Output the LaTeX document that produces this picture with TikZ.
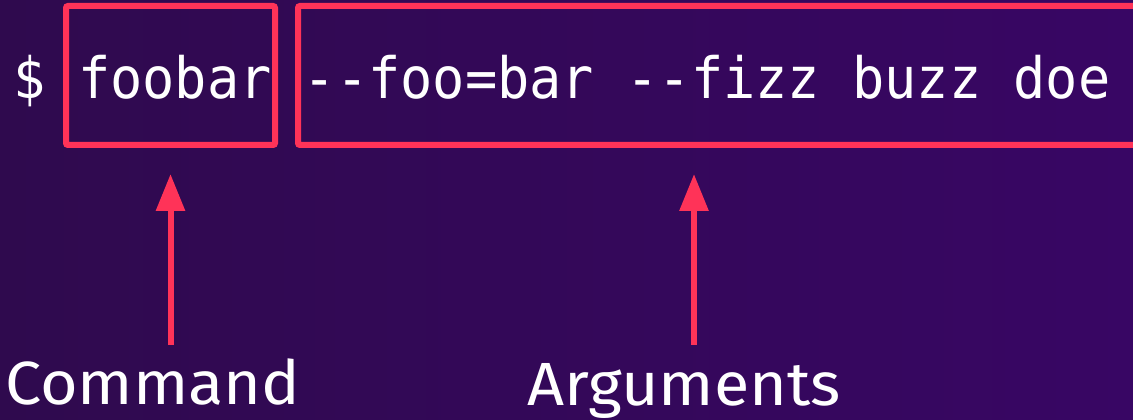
\documentclass[tikz,border=0pt]{standalone}
\usepackage{fontspec}
\usetikzlibrary{arrows.meta}
\newfontfamily\termfont[FakeStretch=0.94]{DejaVu Sans Mono}
\newfontfamily\labelfont[FakeStretch=1.06]{Fira Sans}
\definecolor{bgleft}{HTML}{2F0A4E}
\definecolor{bgright}{HTML}{380664}
\definecolor{hilite}{HTML}{FF3358}
\tikzset{
  x=1pt, y=1pt,
  term/.style={inner sep=0pt, anchor=base west, text=white,
    font=\termfont\fontsize{57}{60}\selectfont},
  frame/.style={draw=hilite, line width=6pt, rounded corners=2pt, inner sep=0pt},
  caption/.style={inner sep=0pt, anchor=base west, text=white,
    font=\labelfont\fontsize{61}{64}\selectfont},
  pointer/.style={draw=hilite, line width=6pt,
    -{Triangle[length=37pt,width=28pt]}},
}
\begin{document}
\begin{tikzpicture}
  \useasboundingbox (0,0) rectangle (1133,420);
  \clip (0,0) rectangle (1133,420);
  \shade[left color=bgleft, right color=bgright] (0,0) rectangle (1133,420);

  % highlight frames
  \node[frame, minimum width=209pt, minimum height=139pt] (cmdbox) at (170.5,344.5) {};
  \node[frame, minimum width=900pt, minimum height=139pt] (argbox) at (748,344.5) {};

  % the shell line
  \node[term] (prompt) at (13.5,321) {\$};
  \node[term] (cmd) at (78,321) {foobar};
  \node[term] (args) at (303.75,321) {--foo=bar --fizz buzz doe};

  % captions
  \node[caption] (cmdlabel) at (5,15) {Command};
  \node[caption] (arglabel) at (527,14) {Arguments};

  % pointers
  \coordinate (cmdtail) at (170.5,75);
  \coordinate (argtail) at (694,75);
  \draw[pointer, shorten >=26pt] (cmdtail) -- (cmdtail |- cmdbox.south);
  \draw[pointer, shorten >=26pt] (argtail) -- (argtail |- argbox.south);
\end{tikzpicture}
\end{document}
